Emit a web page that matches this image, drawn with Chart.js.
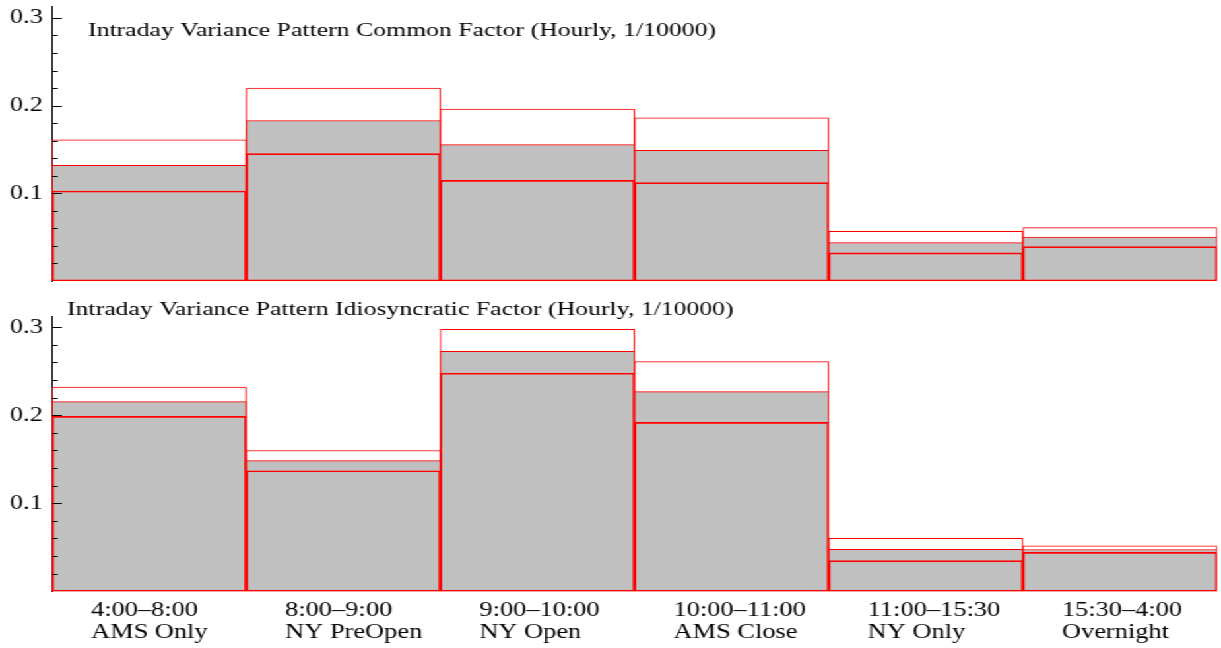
<!DOCTYPE html>
<html lang="en">
<head>
<meta charset="UTF-8" />
<title>Intraday Variance Pattern</title>
<script src="https://cdn.jsdelivr.net/npm/chart.js"></script>
<style>
  body { margin: 0; background: #fff; }
  /* the original figure is stretched horizontally, so draw narrow and widen */
  #wrap { width: 925px; transform: scaleX(1.32); transform-origin: 0 0; }
  canvas { display: block; }
</style>
</head>
<body>
<div id="wrap">
  <canvas id="common" width="925" height="290"></canvas>
  <canvas id="idio" width="925" height="358"></canvas>
</div>
<script>
const sessions = [
  ["4:00\u20138:00", "AMS Only"],
  ["8:00\u20139:00", "NY PreOpen"],
  ["9:00\u201310:00", "NY Open"],
  ["10:00\u201311:00", "AMS Close"],
  ["11:00\u201315:30", "NY Only"],
  ["15:30\u20134:00", "Overnight"]
];

// common factor: upper band, estimate, lower band
const commonUpper = [0.161, 0.220, 0.196, 0.186, 0.0567, 0.0609];
const commonMid   = [0.132, 0.183, 0.1555, 0.149, 0.0438, 0.0502];
const commonLower = [0.1026, 0.1453, 0.1148, 0.1122, 0.032, 0.0392];

// idiosyncratic factor
const idioUpper = [0.232, 0.160, 0.2977, 0.2609, 0.0602, 0.0518];
const idioMid   = [0.2155, 0.1484, 0.2727, 0.2268, 0.0477, 0.0475];
const idioLower = [0.1988, 0.137, 0.2477, 0.192, 0.0348, 0.0443];

const serif = '"Liberation Serif", "Times New Roman", serif';
Chart.defaults.font.family = serif;
Chart.defaults.color = '#000';

// tick marks on the inside of the y axis, long ones at 0.1 steps
const innerTicks = {
  id: 'innerTicks',
  afterDatasetsDraw(chart) {
    const y = chart.scales.y, ctx = chart.ctx, left = chart.chartArea.left;
    ctx.save();
    ctx.strokeStyle = '#000';
    ctx.lineWidth = 1;
    y.ticks.forEach(t => {
      if (t.value <= 0) return;
      const major = Math.abs(t.value * 10 - Math.round(t.value * 10)) < 1e-6;
      const py = Math.round(y.getPixelForValue(t.value)) + 0.5;
      ctx.beginPath();
      ctx.moveTo(left, py);
      ctx.lineTo(left + (major ? 7.5 : 4.3), py);
      ctx.stroke();
    });
    ctx.restore();
  }
};

const panelTitle = {
  id: 'panelTitle',
  afterDraw(chart, args, opts) {
    const ctx = chart.ctx;
    ctx.save();
    ctx.font = '19.5px ' + serif;
    ctx.fillStyle = '#000';
    ctx.textBaseline = 'alphabetic';
    ctx.fillText(opts.text, opts.x, opts.y);
    ctx.restore();
  }
};

function makePanel(id, title, tx, ty, upper, mid, lower, yMax, pad, showLabels) {
  const box = { borderColor: '#ff0000', borderWidth: 1, borderSkipped: false };
  new Chart(document.getElementById(id), {
    type: 'bar',
    data: {
      labels: sessions,
      datasets: [
        { data: upper, backgroundColor: '#ffffff', order: 3, ...box },
        { data: mid, backgroundColor: '#c0c0c0', order: 2, ...box },
        { data: lower, backgroundColor: 'rgba(0,0,0,0)', order: 1, ...box }
      ]
    },
    options: {
      responsive: false,
      animation: false,
      layout: { padding: pad },
      datasets: { bar: { barPercentage: 1, categoryPercentage: 1, grouped: false } },
      plugins: {
        legend: { display: false },
        tooltip: { enabled: false },
        panelTitle: { text: title, x: tx, y: ty }
      },
      scales: {
        x: {
          display: showLabels,
          grid: { display: false, drawTicks: false },
          border: { display: false },
          ticks: {
            align: 'start',
            labelOffset: -44,
            padding: 8,
            maxRotation: 0,
            autoSkip: false,
            color: '#000',
            font: { size: 20, lineHeight: 1.1 }
          },
          afterFit(s) {
            s.height = showLabels ? 56.7 : 0;
            s.paddingLeft = 0;
            s.paddingRight = 0;
          }
        },
        y: {
          min: 0,
          max: yMax,
          grid: { display: false, drawTicks: false },
          border: { display: true, color: '#000', width: 1 },
          ticks: {
            stepSize: 0.02,
            includeBounds: false,
            autoSkip: false,
            padding: 7,
            color: '#000',
            font: { size: 20 },
            callback: v => {
              const r = Math.round(v * 100) / 100;
              return (r > 0 && Math.abs(r * 10 - Math.round(r * 10)) < 1e-6) ? r.toFixed(1) : '';
            }
          },
          afterFit(s) { s.width = 39.4; s.paddingTop = 0; s.paddingBottom = 0; }
        }
      }
    },
    plugins: [innerTicks, panelTitle]
  });
}

makePanel('common', 'Intraday Variance Pattern Common Factor (Hourly, 1/10000)', 66.7, 36,
  commonUpper, commonMid, commonLower, 0.3136,
  { top: 6, right: 3, bottom: 9, left: 0 }, false);

makePanel('idio', 'Intraday Variance Pattern Idiosyncratic Factor (Hourly, 1/10000)', 50.8, 25,
  idioUpper, idioMid, idioLower, 0.312,
  { top: 26.7, right: 3, bottom: 0, left: 0 }, true);
</script>
</body>
</html>
